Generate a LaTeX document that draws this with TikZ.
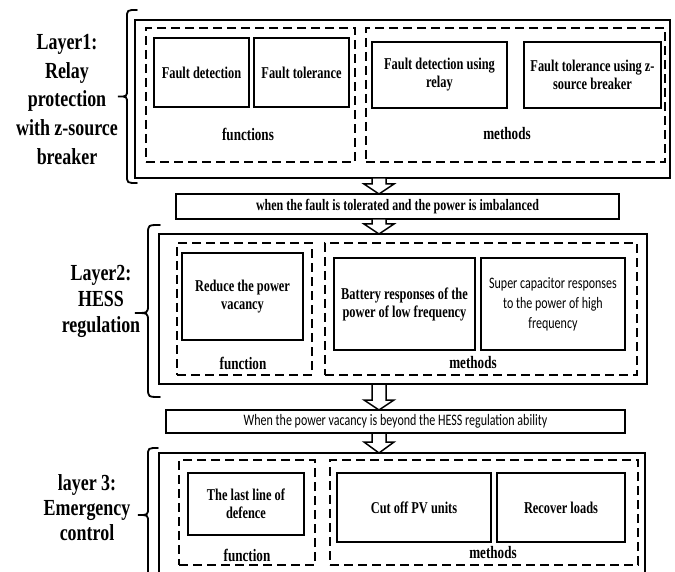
\documentclass[tikz,border=0pt]{standalone}
\usepackage{fontspec}
\usetikzlibrary{calc}
\newfontfamily\serifc[FakeStretch=0.75]{Liberation Serif}
\newfontfamily\labfam[FakeStretch=0.78]{Liberation Serif}
\newfontfamily\sanc[FakeStretch=0.75]{Carlito}
\newcommand\hollowdown[3]{%
  \draw[harrow] let \p1=(ax |- #1.south), \p2=(ax |- #2.north) in
   (\x1-7pt,\y1) -- (\x1+7pt,\y1) -- (\x1+7pt,\y2+#3) -- (\x1+15pt,\y2+#3)
   -- (\x1,\y2) -- (\x1-15pt,\y2+#3) -- (\x1-7pt,\y2+#3) -- cycle;}
\begin{document}
\begin{tikzpicture}[x=1pt,y=-1pt,
  outerbox/.style={draw, line width=2pt, inner sep=0pt, outer sep=0pt},
  dbox/.style={draw, line width=2pt, dash pattern=on 9pt off 5pt, inner sep=0pt, outer sep=0pt},
  sbox/.style={draw, line width=2pt, inner sep=0pt, outer sep=0pt, align=center,
     font=\serifc\bfseries\fontsize{16.5}{18}\selectfont},
  sansbox/.style={sbox, font=\sanc\fontsize{16}{20}\selectfont},
  barbox/.style={draw, line width=2pt, inner sep=0pt, outer sep=0pt,
     font=\serifc\bfseries\fontsize{16}{18}\selectfont},
  sansbar/.style={barbox, font=\sanc\fontsize{16}{18}\selectfont},
  grouplabel/.style={inner sep=0pt, font=\serifc\bfseries\fontsize{17.5}{20}\selectfont},
  laytxt/.style={inner sep=0pt, align=center},
  harrow/.style={draw, fill=white, line width=1.5pt, line join=miter},
  bracesty/.style={line width=1.8pt, line cap=round}]
\useasboundingbox (0,0) rectangle (675,572);
\clip (0,0) rectangle (675,572);
\fill[white] (0,0) rectangle (675,572);
\coordinate (ax) at (379,0);

% ---------- Layer 1 ----------
\node[laytxt, font=\labfam\bfseries\fontsize{23}{28.75}\selectfont] (lay1) at (67,99.5)
  {Layer1:\\Relay\\protection\\with z-source\\breaker};
\draw[bracesty] (137,10) .. controls (127,10) .. (127,18) -- (127,90)
  .. controls (127,96.5) .. (118,96.5) .. controls (127,96.5) .. (127,103)
  -- (127,175) .. controls (127,183) .. (137,183);
\node[outerbox, minimum width=535pt, minimum height=158pt] (L1) at (402.5,99) {};
\node[dbox, minimum width=209pt, minimum height=134pt] (L1f) at (250.5,95) {};
\node[dbox, minimum width=299pt, minimum height=134pt] (L1m) at (515.5,95) {};
\node[sbox, minimum width=95pt, minimum height=69pt] (fd) at (201.5,72.5) {Fault detection};
\node[sbox, minimum width=95pt, minimum height=69pt] (ft) at (301.5,72.5) {Fault tolerance};
\node[sbox, minimum width=135pt, minimum height=66pt] (fdr) at (439.5,75) {Fault detection using\\relay};
\node[sbox, minimum width=137pt, minimum height=66pt] (ftz) at (592.5,75) {Fault tolerance using z-\\source breaker};
\node[grouplabel] (L1fl) at (248,134) {functions};
\node[grouplabel] (L1ml) at (507,134) {methods};

% ---------- bar 1 ----------
\node[barbox, minimum width=443pt, minimum height=25pt] (b1) at (397.5,206.5)
  {when the fault is tolerated and the power is imbalanced};

% ---------- Layer 2 ----------
\node[laytxt, font=\labfam\bfseries\fontsize{23}{26}\selectfont] (lay2) at (101,301)
  {Layer2:\\HESS\\regulation};
\draw[bracesty] (160,225) .. controls (148,225) .. (148,234) -- (148,305)
  .. controls (148,313) .. (135,313) .. controls (148,313) .. (148,321)
  -- (148,388) .. controls (148,397) .. (160,397);
\node[outerbox, minimum width=488pt, minimum height=150pt] (L2) at (403,309) {};
\node[dbox, minimum width=135pt, minimum height=132pt] (L2f) at (244.5,309) {};
\node[dbox, minimum width=312pt, minimum height=132pt] (L2m) at (481,309) {};
\node[sbox, minimum width=121pt, minimum height=87pt] (rpv) at (242.5,296.5) {Reduce the power\\vacancy};
\node[sbox, minimum width=141pt, minimum height=92pt] (bat) at (404.5,304) {Battery responses of the\\power of low frequency};
\node[sansbox, minimum width=144pt, minimum height=92pt] (sc) at (553,304) {Super capacitor responses\\to the power of high\\frequency};
\node[grouplabel] (L2fl) at (243,363) {function};
\node[grouplabel] (L2ml) at (473,363) {methods};

% ---------- bar 2 ----------
\node[sansbar, minimum width=459pt, minimum height=23pt] (b2) at (395.5,421.5)
  {When the power vacancy is beyond the HESS regulation ability};

% ---------- Layer 3 ----------
\node[laytxt, font=\labfam\bfseries\fontsize{23}{25}\selectfont] (lay3) at (87,508)
  {layer 3:\\Emergency\\control};
\draw[bracesty] (158,448) .. controls (148,448) .. (148,456) -- (148,508)
  .. controls (148,515) .. (138,515) .. controls (148,515) .. (148,522)
  -- (148,574) .. controls (148,582) .. (158,582);
\node[outerbox, minimum width=486pt, minimum height=147pt] (L3) at (402,526.5) {};
\node[dbox, minimum width=136pt, minimum height=105pt] (L3f) at (247,512.5) {};
\node[dbox, minimum width=308pt, minimum height=105pt] (L3m) at (484,512.5) {};
\node[sbox, minimum width=116pt, minimum height=62pt] (lld) at (246,504) {The last line of\\defence};
\node[sbox, minimum width=154pt, minimum height=69pt] (cut) at (414,507.5) {Cut off PV units};
\node[sbox, minimum width=128pt, minimum height=69pt] (rec) at (561,507.5) {Recover loads};
\node[grouplabel] (L3fl) at (247,555) {function};
\node[grouplabel] (L3ml) at (493,553) {methods};

% ---------- hollow arrows ----------
\hollowdown{L1}{b1}{10pt}
\hollowdown{b1}{L2}{10pt}
\hollowdown{L2}{b2}{10pt}
\hollowdown{b2}{L3}{11pt}
\end{tikzpicture}
\end{document}
